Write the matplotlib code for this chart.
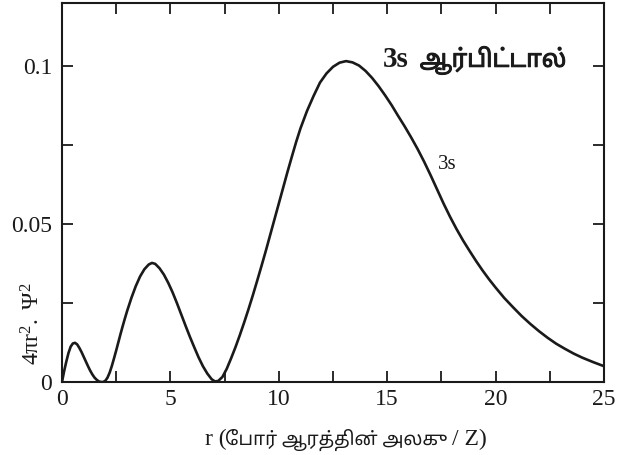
import matplotlib
matplotlib.use("Agg")
import matplotlib.pyplot as plt
import matplotlib.patheffects as pe
from matplotlib import font_manager
from matplotlib.ft2font import FT2Font
from matplotlib.ticker import MultipleLocator, FixedLocator, FixedFormatter
from matplotlib.transforms import IdentityTransform

# Radial distance r (Bohr radius / Z) and radial probability 4*pi*r^2*psi^2 for the 3s orbital
r_values = [0.0, 0.1, 0.2, 0.3, 0.4, 0.5, 0.6, 0.7, 0.8, 0.9, 1.0, 1.1, 1.2, 1.3, 1.4,
            1.5, 1.6, 1.7, 1.8, 1.9, 2.0, 2.1, 2.2, 2.3, 2.4, 2.5, 2.6, 2.7, 2.8, 2.9,
            3.0, 3.2, 3.4, 3.6, 3.8, 4.0, 4.15, 4.3, 4.5, 4.7, 4.9, 5.1, 5.3, 5.5, 5.7,
            5.9, 6.1, 6.3, 6.5, 6.7, 6.9, 7.05, 7.2, 7.4, 7.6, 7.8, 8.0, 8.2, 8.4, 8.6,
            8.8, 9.0, 9.2, 9.4, 9.6, 9.8, 10.0, 10.2, 10.4, 10.6, 10.8, 11.0, 11.3, 11.6,
            11.9, 12.2, 12.5, 12.8, 13.1, 13.4, 13.7, 14.0, 14.3, 14.6, 14.9, 15.2, 15.5,
            15.8, 16.1, 16.4, 16.7, 17.0, 17.3, 17.6, 17.9, 18.2, 18.5, 18.8, 19.1, 19.4,
            19.7, 20.0, 20.4, 20.8, 21.2, 21.6, 22.0, 22.4, 22.8, 23.2, 23.6, 24.0, 24.5,
            25.0]
prob_3s = [0.0, 0.0035, 0.0065, 0.0092, 0.0112, 0.0122, 0.0124, 0.0119, 0.0108, 0.0095,
           0.0080, 0.0065, 0.0050, 0.0036, 0.0024, 0.0014, 0.0007, 0.0002, 0.0, 0.0,
           0.0004, 0.0014, 0.0030, 0.0051, 0.0075, 0.0100, 0.0126, 0.0152, 0.0177, 0.0201,
           0.0224, 0.0266, 0.0303, 0.0334, 0.0357, 0.0372, 0.0377, 0.0374, 0.0360, 0.0340,
           0.0314, 0.0284, 0.0250, 0.0214, 0.0178, 0.0143, 0.0110, 0.0078, 0.0050, 0.0027,
           0.0009, 0.0002, 0.0003, 0.0016, 0.0042, 0.0075, 0.0110, 0.0148, 0.0188, 0.0230,
           0.0274, 0.0320, 0.0367, 0.0415, 0.0465, 0.0515, 0.0565, 0.0615, 0.0665, 0.0713,
           0.0760, 0.0803, 0.0858, 0.0905, 0.0948, 0.0977, 0.0998, 0.1011, 0.1016, 0.1012,
           0.1002, 0.0985, 0.0963, 0.0937, 0.0908, 0.0877, 0.0843, 0.0810, 0.0775, 0.0738,
           0.0698, 0.0655, 0.0610, 0.0565, 0.0523, 0.0484, 0.0448, 0.0415, 0.0383, 0.0353,
           0.0325, 0.0299, 0.0266, 0.0237, 0.0209, 0.0184, 0.0161, 0.0140, 0.0121, 0.0105,
           0.0090, 0.0077, 0.0063, 0.0050]

x_tick_values = [0, 5, 10, 15, 20, 25]
x_tick_labels = ["0", "5", "10", "15", "20", "25"]
y_tick_values = [0.0, 0.05, 0.1]
y_tick_labels = ["0", "0.05", "0.1"]

title_latin = "3s"
title_tamil = "ஆர்பிட்டால்"
curve_label = "3s"
# matplotlib does not reorder Tamil pre-base vowel signs, so "போ" is written in display order
xlabel_parts = ["r (", "\u0BC7\u0BAA\u0BBEர் ஆரத்தின் அலகு", "/ Z)"]
y_label = r"$\mathregular{4πr^2.\ Ψ^2}$"

INK = "#1a1a1a"
SERIF = "Liberation Serif"


def find_tamil_family():
    found = []
    for fe in font_manager.fontManager.ttflist:
        try:
            if FT2Font(fe.fname).get_char_index(ord("ஆ")):
                found.append(fe.name)
        except Exception:
            continue
    for pref in ("Noto Sans Tamil", "Lohit Tamil", "Noto Serif Tamil"):
        if pref in found:
            return pref
    return found[0] if found else "DejaVu Sans"


TAMIL = find_tamil_family()

plt.rcParams["font.family"] = SERIF
plt.rcParams["mathtext.fontset"] = "custom"
plt.rcParams["mathtext.rm"] = SERIF
plt.rcParams["mathtext.it"] = SERIF + ":italic"

W, H = 624, 455
fig = plt.figure(figsize=(W / 100, H / 100), dpi=100)
ax = fig.add_axes([62 / W, 1 - 382 / H, (604 - 62) / W, (382 - 3) / H])

ax.plot(r_values, prob_3s, color=INK, lw=1.9, solid_joinstyle="round",
        solid_capstyle="round")

ax.set_xlim(0, 25)
ax.set_ylim(0, 0.12)

ax.xaxis.set_major_locator(FixedLocator(x_tick_values))
ax.xaxis.set_major_formatter(FixedFormatter(x_tick_labels))
ax.xaxis.set_minor_locator(MultipleLocator(2.5))
ax.yaxis.set_major_locator(FixedLocator(y_tick_values))
ax.yaxis.set_major_formatter(FixedFormatter(y_tick_labels))
ax.yaxis.set_minor_locator(MultipleLocator(0.025))

for which in ("major", "minor"):
    ax.tick_params(axis="both", which=which, direction="in", length=8, width=1.3,
                   top=True, right=True, color=INK)
ax.tick_params(axis="both", which="major", labelsize=17, labelcolor=INK)
ax.tick_params(axis="x", which="major", pad=5)
ax.tick_params(axis="y", which="major", pad=7)

for sp in ax.spines.values():
    sp.set_linewidth(1.5)
    sp.set_color(INK)

renderer = fig.canvas.get_renderer()
ident = IdentityTransform()


def text_row(parts, x_px, y_px, align="left"):
    """Lay out several text pieces on one baseline, in display pixels."""
    objs = []
    for s, props, gap in parts:
        t = fig.text(0, y_px, s, transform=ident, ha="left", va="baseline",
                     color=INK, **props)
        objs.append((t, gap))
    widths = [t.get_window_extent(renderer).width for t, _ in objs]
    total = sum(widths) + sum(g for _, g in objs)
    x = x_px - total / 2 if align == "center" else x_px
    for (t, gap), w in zip(objs, widths):
        x += gap
        t.set_x(x)
        x += w
    return [t for t, _ in objs]


# x-axis label: serif Latin pieces around the Tamil words
text_row([(xlabel_parts[0], dict(family=SERIF, fontsize=17), 0),
          (xlabel_parts[1], dict(family=TAMIL, fontsize=13.5), -2),
          (xlabel_parts[2], dict(family=SERIF, fontsize=17), 5)],
         346, H - 445, align="center")

# y-axis label
ax.text(-0.054, 0.155, y_label, transform=ax.transAxes, rotation=90,
        ha="center", va="center", fontsize=17, color=INK)

# in-plot title
tx, ty = ax.transData.transform((14.8, 0.0998))
title_parts = text_row(
    [(title_latin, dict(family=SERIF, fontsize=21, fontweight="bold"), 0),
     (title_tamil, dict(family=TAMIL, fontsize=17.5, fontweight="bold"), 11)],
    tx, ty)
title_parts[1].set_path_effects([pe.withStroke(linewidth=0.7, foreground=INK)])

# curve label
ax.text(17.78, 0.0674, curve_label, ha="center", va="baseline", fontsize=15,
        family=SERIF, color=INK)

fig.savefig("out.png", dpi=100)
